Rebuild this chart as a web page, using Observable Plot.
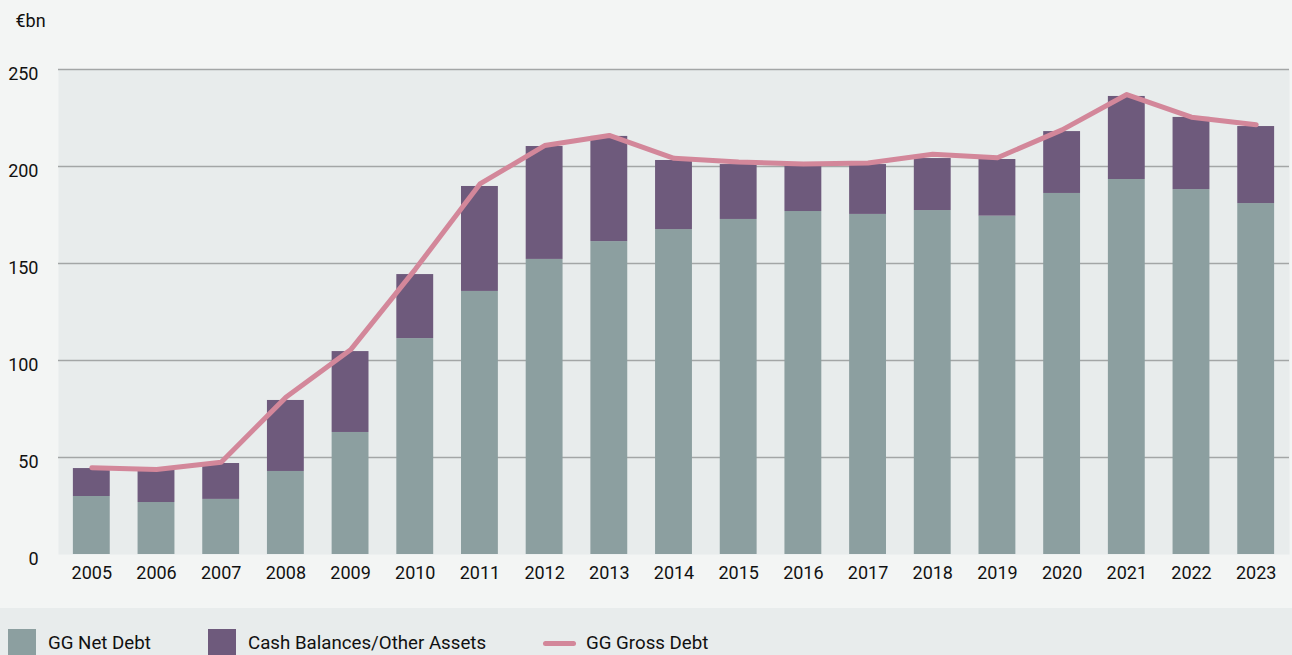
<!DOCTYPE html>
<html>
<head>
<meta charset="utf-8">
<script src="https://cdn.jsdelivr.net/npm/d3@7"></script>
<script src="https://cdn.jsdelivr.net/npm/@observablehq/plot@0.6"></script>
<style>
  html, body { margin: 0; padding: 0; background: #f3f5f4; overflow: hidden; }
  body { width: 1292px; height: 655px; font-family: Roboto, "Noto Sans", sans-serif; }
  #chart svg { display: block; }
  .legend { position: absolute; left: 0; top: 608px; width: 1292px; height: 47px; background: #e8ecec; }
  .item { position: absolute; top: 21px; height: 28px; display: flex; align-items: center; font-size: 18.7px; color: #111; }
  .sw { width: 28px; height: 28px; margin-right: 12px; }
  .ln { width: 33px; height: 5px; border-radius: 3px; background: #d3879a; margin-right: 10px; }
</style>
</head>
<body>
<div id="chart"></div>
<div class="legend">
  <div class="item" style="left:8px"><div class="sw" style="background:#8c9fa0"></div>GG Net Debt</div>
  <div class="item" style="left:208px"><div class="sw" style="background:#6e5a7c"></div>Cash Balances/Other Assets</div>
  <div class="item" style="left:543px"><div class="ln"></div>GG Gross Debt</div>
</div>
<script>
const years = ["2005","2006","2007","2008","2009","2010","2011","2012","2013","2014","2015","2016","2017","2018","2019","2020","2021","2022","2023"];
const netDebt = [29.9, 26.8, 28.4, 42.8, 62.9, 111.3, 135.6, 152.1, 161.3, 167.5, 172.7, 176.8, 175.3, 177.3, 174.4, 186.1, 193.3, 188.1, 180.9];
const cashBalances = [14.4, 16.5, 18.5, 36.6, 41.7, 33.0, 54.1, 58.2, 54.2, 35.6, 28.3, 23.5, 25.7, 26.8, 29.2, 31.9, 42.8, 37.2, 39.7];
const grossDebt = [44.7, 43.8, 47.6, 81.0, 105.5, 147.0, 191.0, 210.8, 216.0, 204.2, 202.3, 201.3, 201.8, 206.3, 204.5, 218.9, 237.1, 225.4, 221.5];
const yTicks = [0, 50, 100, 150, 200, 250];
const seriesNames = ["GG Net Debt", "Cash Balances/Other Assets"];
const seriesColors = ["#8c9fa0", "#6e5a7c"];

const stacked = [];
years.forEach((y, i) => {
  stacked.push({year: y, series: seriesNames[0], value: netDebt[i]});
  stacked.push({year: y, series: seriesNames[1], value: cashBalances[i]});
});
const gross = years.map((y, i) => ({year: y, value: grossDebt[i]}));

const chart = Plot.plot({
  width: 1292,
  height: 608,
  marginLeft: 58,
  marginRight: 3,
  marginTop: 69,
  marginBottom: 54,
  style: {fontFamily: "Roboto, 'Noto Sans', sans-serif", fontSize: "18px", color: "#111", background: "transparent"},
  x: {domain: years, paddingInner: 0.43, paddingOuter: 0.23, round: false, label: null},
  y: {domain: [0, 250], ticks: yTicks, label: null},
  color: {domain: seriesNames, range: seriesColors},
  marks: [
    Plot.frame({fill: "#e8ecec", stroke: null}),
    Plot.ruleY(yTicks.filter(d => d > 0), {stroke: "#a3a6a6", strokeWidth: 1.5}),
    Plot.barY(stacked, {x: "year", y: "value", fill: "series", order: seriesNames}),
    Plot.line(gross, {x: "year", y: "value", stroke: "#d3879a", strokeWidth: 5, strokeLinecap: "round", strokeLinejoin: "round"}),
    Plot.axisY({ticks: yTicks, tickSize: 0, tickPadding: 20, dy: 5, label: null, fontSize: 18}),
    Plot.axisX({tickSize: 0, tickPadding: 12, label: null, fontSize: 18}),
    Plot.text(["€bn"], {frameAnchor: "top-left", dx: -43, dy: -55, textAnchor: "start", fontSize: 18})
  ]
});
document.getElementById("chart").appendChild(chart);
</script>
</body>
</html>
